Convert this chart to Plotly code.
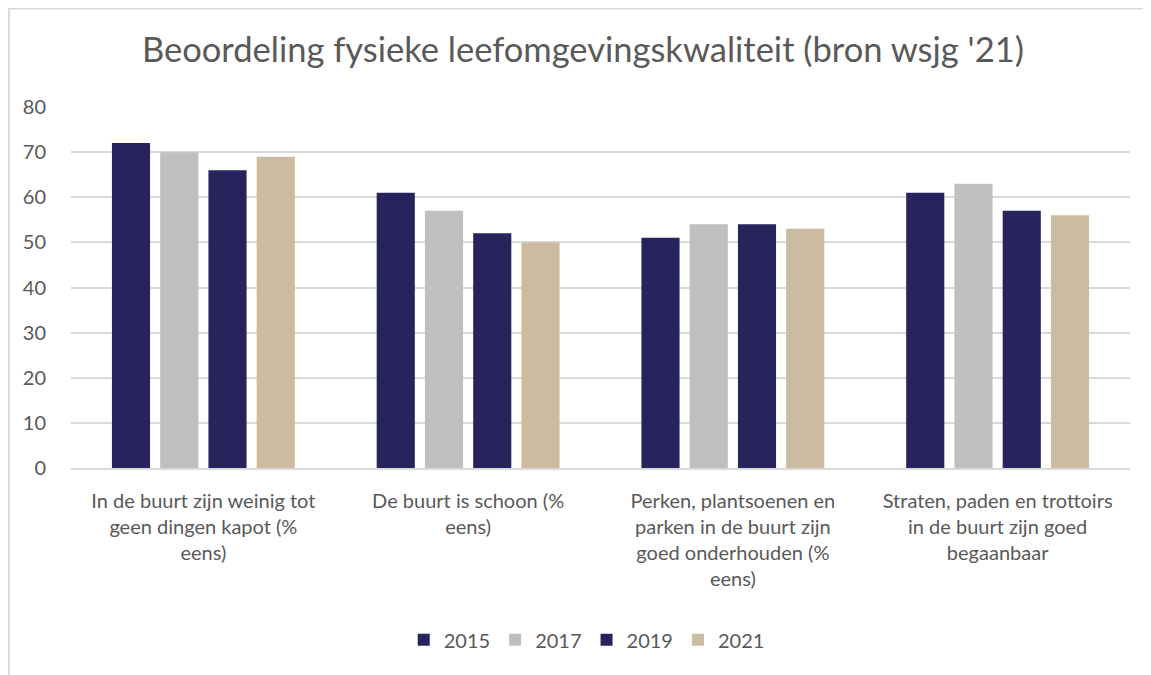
import plotly.graph_objects as go

categories = [
    "In de buurt zijn weinig tot<br>geen dingen kapot (%<br>eens)",
    "De buurt is schoon (%<br>eens)",
    "Perken, plantsoenen en<br>parken in de buurt zijn<br>goed onderhouden (%<br>eens)",
    "Straten, paden en trottoirs<br>in de buurt zijn goed<br>begaanbaar",
]
years = ["2015", "2017", "2019", "2021"]
v2015 = [72, 61, 51, 61]
v2017 = [70, 57, 54, 63]
v2019 = [66, 52, 54, 57]
v2021 = [69, 50, 53, 56]
colors = ["#27235C", "#BFBFBF", "#27235C", "#CBBBA0"]
series = [v2015, v2017, v2019, v2021]
yticks = [0, 10, 20, 30, 40, 50, 60, 70, 80]

FONT = "Lato, 'Open Sans', sans-serif"
GREY = "#595959"
BORDER = "#D9D9D9"

fig = go.Figure()
for name, vals, col in zip(years, series, colors):
    fig.add_trace(go.Bar(x=categories, y=vals, name=name, marker_color=col,
                         marker_line_width=0))

fig.update_layout(
    width=1143, height=667,
    margin=dict(l=63, r=21, t=99, b=207),
    paper_bgcolor="white", plot_bgcolor="white",
    barmode="group", bargap=0.271, bargroupgap=0.21,
    font=dict(family=FONT, size=20, color=GREY),
    title=dict(text="Beoordeling fysieke leefomgevingskwaliteit (bron wsjg '21)",
               x=0.503, xanchor="center", y=1 - 42 / 667, yanchor="middle",
               font=dict(size=34.5, color=GREY, family=FONT)),
    legend=dict(orientation="h", x=0.487, xanchor="center", y=-0.476, yanchor="middle",
                font=dict(size=20, color=GREY), itemwidth=30, traceorder="normal"),
    showlegend=True,
)
fig.update_xaxes(showgrid=False, showline=True, linecolor=BORDER, linewidth=1.5,
                 ticks="", tickfont=dict(size=20, color=GREY), ticklabelstandoff=14)
fig.update_yaxes(range=[0, 80], tickvals=yticks, showgrid=True, gridcolor=BORDER,
                 gridwidth=1.5, zeroline=False, showline=False, ticks="",
                 tickfont=dict(size=20, color=GREY), ticklabelstandoff=24)
# chart-area border (top and left edges visible in the reference)
fig.add_shape(type="line", xref="paper", yref="paper",
              x0=-0.059, x1=1.05, y0=1.2729, y1=1.2729,
              line=dict(color=BORDER, width=2), layer="below")
fig.add_shape(type="line", xref="paper", yref="paper",
              x0=-0.0585, x1=-0.0585, y0=1.2729, y1=-0.6,
              line=dict(color=BORDER, width=2), layer="below")

fig.write_html("out.html")
